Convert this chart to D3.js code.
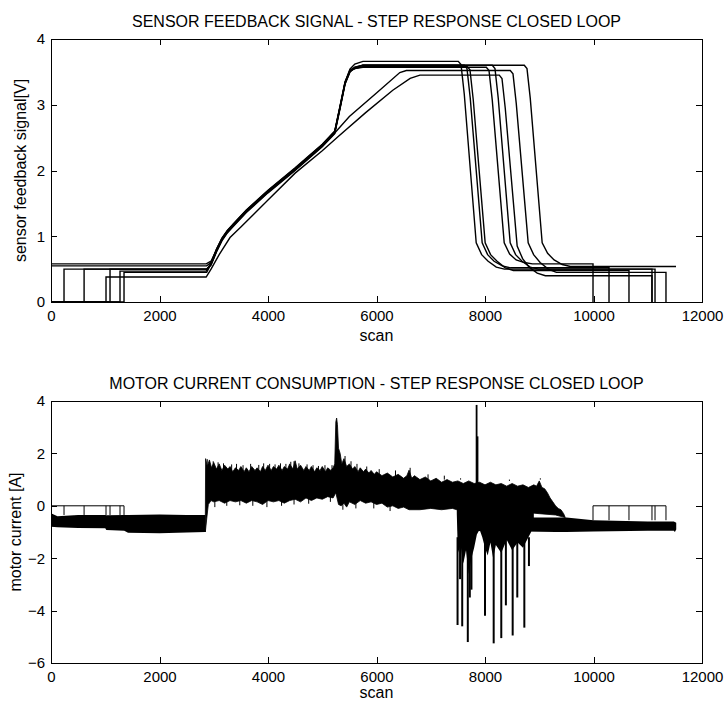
<!DOCTYPE html>
<html><head><meta charset="utf-8">
<script src="https://cdn.jsdelivr.net/npm/d3@7"></script>
<style>
body{margin:0;background:#fff}
text{font-family:"Liberation Sans",Arial,Helvetica,sans-serif;fill:#000}
</style>
</head><body>
<svg id="chart" width="725" height="704"></svg>
<script>
// ---------- data ----------
const xTicks = [0, 2000, 4000, 6000, 8000, 10000, 12000];
const sensorTicks = [0, 1, 2, 3, 4];
const currentTicks = [-6, -4, -2, 0, 2, 4];
const runStarts = [240, 610, 1014, 1088, 1272, 1346];
const runEnds = [9991, 10286, 10654, 11078, 11134, 11336];

const sensorRun1 = [[0,0.58],[2860,0.58],[2950,0.62],[3050,0.79],[3150,0.96],[3250,1.08],[3350,1.17],[3600,1.39],[4000,1.69],[4500,2.03],[5000,2.39],[5230,2.59],[5330,2.98],[5420,3.34],[5510,3.54],[5600,3.62],[5750,3.66],[7508,3.66],[7558,3.61],[7618,3.16],[7838,0.9],[7938,0.72],[8058,0.62],[8208,0.53],[8358,0.5],[11078,0.5],[11078,0]];
const sensorRun2 = [[0,0],[240,0],[240,0.5],[2880,0.5],[2950,0.57],[3050,0.77],[3150,0.94],[3250,1.06],[3350,1.15],[3600,1.37],[4000,1.67],[4500,2.01],[5000,2.37],[5230,2.57],[5330,2.96],[5420,3.32],[5510,3.5],[5600,3.56],[5750,3.6],[7618,3.6],[7668,3.55],[7728,3.1],[7948,0.9],[8048,0.72],[8168,0.62],[8318,0.55],[8468,0.52],[10286,0.52],[10286,0]];
const sensorRun3 = [[0,0],[610,0],[610,0.5],[2870,0.5],[2950,0.58],[3050,0.78],[3150,0.95],[3250,1.07],[3350,1.16],[3600,1.38],[4000,1.68],[4500,2.02],[5000,2.38],[5230,2.58],[5330,2.97],[5420,3.33],[5510,3.51],[5600,3.55],[5750,3.58],[7673,3.58],[7723,3.53],[7783,3.08],[8003,0.9],[8103,0.72],[8223,0.62],[8373,0.52],[8523,0.48],[10654,0.48],[10654,0]];
const sensorRun4 = [[0,0],[1272,0],[1272,0.47],[2860,0.47],[2950,0.59],[3050,0.8],[3150,0.97],[3250,1.09],[3350,1.18],[3600,1.4],[4000,1.7],[4500,2.04],[5000,2.4],[5230,2.6],[5330,2.99],[5420,3.35],[5510,3.52],[5600,3.55],[5750,3.57],[8024,3.57],[8074,3.52],[8134,3.07],[8354,0.9],[8454,0.73],[8574,0.64],[8724,0.6],[8874,0.58],[9991,0.58],[9991,0]];
const sensorRun5 = [[0,0],[1088,0],[1088,0.5],[2870,0.5],[2950,0.56],[3050,0.76],[3150,0.93],[3250,1.05],[3350,1.14],[3600,1.36],[4000,1.66],[4500,2.0],[5000,2.36],[5230,2.56],[5330,2.95],[5420,3.31],[5510,3.5],[5600,3.57],[5750,3.6],[8134,3.6],[8184,3.55],[8244,3.1],[8464,0.9],[8564,0.72],[8684,0.62],[8834,0.53],[8984,0.5],[11134,0.5],[11134,0]];
const sensorRun6 = [[0,0],[1014,0],[1014,0.38],[2860,0.38],[2950,0.5],[3100,0.72],[3300,0.98],[3500,1.14],[4000,1.55],[4500,1.96],[5000,2.3],[5300,2.52],[5800,2.88],[6300,3.22],[6620,3.4],[6800,3.45],[8263,3.45],[8313,3.4],[8373,2.95],[8593,0.85],[8693,0.66],[8813,0.53],[8963,0.44],[9113,0.4],[11078,0.4],[11078,0]];
const sensorRun7 = [[0,0],[1346,0],[1346,0.45],[2870,0.45],[2950,0.58],[3050,0.78],[3150,0.95],[3250,1.07],[3350,1.16],[3600,1.38],[4000,1.68],[4500,2.02],[5000,2.38],[5230,2.57],[5500,2.82],[6000,3.18],[6430,3.49],[6550,3.52],[8466,3.52],[8516,3.47],[8576,3.02],[8796,0.9],[8896,0.72],[9016,0.6],[9166,0.5],[9316,0.45],[11336,0.45],[11336,0]];
const sensorRun8 = [[0,0.55],[2870,0.55],[2950,0.6],[3050,0.8],[3150,0.96],[3250,1.08],[3350,1.17],[3600,1.39],[4000,1.69],[4500,2.03],[5000,2.39],[5230,2.59],[5330,2.97],[5420,3.33],[5510,3.52],[5600,3.57],[5750,3.6],[8724,3.6],[8774,3.55],[8834,3.1],[9054,0.9],[9154,0.74],[9274,0.64],[9424,0.57],[9574,0.54],[11521,0.54]];
const sensorRuns = [sensorRun1, sensorRun2, sensorRun3, sensorRun4, sensorRun5, sensorRun6, sensorRun7, sensorRun8];

// motor current: [scan, upper, lower] envelopes of the dense black band
const currentIdle = [[0,-0.28,-0.8],[120,-0.4,-0.82],[500,-0.35,-0.85],[1000,-0.35,-0.86],[1020,-0.36,-0.92],[1350,-0.35,-0.95],[1420,-0.35,-1.03],[2000,-0.33,-1.05],[2500,-0.35,-1.02],[2846,-0.35,-1.0]];
const currentMoveUpper = [[2845,-0.35],[2850,1.8],[2880,1.5],[2920,1.75],[2960,1.45],[3000,1.65],[3050,1.4],[3100,1.6],[3150,1.35],[3200,1.55],[3260,1.4],[3300,1.5],[3350,1.3],[3400,1.45],[3460,1.35],[3500,1.5],[3560,1.3],[3600,1.45],[3650,1.3],[3700,1.5],[3760,1.35],[3800,1.45],[3860,1.3],[3900,1.5],[3950,1.35],[4000,1.55],[4060,1.35],[4100,1.5],[4160,1.4],[4200,1.55],[4260,1.35],[4300,1.5],[4360,1.4],[4400,1.6],[4460,1.4],[4500,1.72],[4540,1.4],[4600,1.55],[4660,1.35],[4700,1.5],[4760,1.35],[4800,1.5],[4860,1.3],[4900,1.45],[4960,1.35],[5000,1.5],[5060,1.3],[5100,1.45],[5160,1.35],[5200,1.45],[5230,1.6],[5250,3.2],[5265,3.35],[5280,3.1],[5300,2.2],[5330,2.0],[5360,1.6],[5400,1.8],[5450,1.5],[5500,1.6],[5560,1.4],[5600,1.5],[5660,1.3],[5700,1.45],[5760,1.3],[5800,1.4],[5860,1.25],[5900,1.35],[5960,1.2],[6000,1.3],[6100,1.15],[6200,1.25],[6300,1.1],[6400,1.2],[6500,1.05],[6560,1.15],[6600,1.36],[6650,1.05],[6700,1.15],[6800,1.0],[6900,1.1],[7000,0.95],[7100,1.05],[7200,0.9],[7300,1.0],[7400,0.9],[7500,0.95],[7600,0.85],[7700,0.95],[7800,0.85],[7900,0.9],[8000,0.8],[8100,0.9],[8200,0.8],[8300,0.85],[8400,0.75],[8500,0.85],[8600,0.75],[8700,0.8],[8800,0.7],[8900,0.8],[8950,0.75],[9000,0.95],[9050,0.7],[9100,0.65],[9150,0.5],[9200,0.3],[9250,0.15],[9300,0.0],[9350,-0.1],[9400,-0.15],[9450,-0.3],[9480,-0.45]];
const currentMoveLower = [[2845,-1.0],[2870,-0.5],[2900,0.05],[2950,0.2],[3000,0.15],[3100,0.2],[3200,0.1],[3300,0.2],[3400,0.15],[3500,0.2],[3600,0.1],[3700,0.2],[3800,0.15],[3900,0.05],[4000,0.2],[4100,0.15],[4200,0.2],[4300,0.1],[4400,0.2],[4500,0.25],[4600,0.15],[4700,0.3],[4800,0.2],[4900,0.3],[5000,0.25],[5100,0.35],[5200,0.3],[5250,0.5],[5300,0.05],[5350,0.0],[5400,0.1],[5450,-0.05],[5500,0.15],[5600,0.05],[5700,0.2],[5800,0.1],[5900,0.15],[6000,0.05],[6100,0.1],[6200,-0.05],[6300,0.0],[6400,-0.1],[6500,-0.05],[6600,-0.15],[6800,-0.15],[7000,-0.1],[7200,-0.15],[7400,-0.1],[7480,-0.15],[7600,-0.2],[8000,-0.25],[8500,-0.2],[9000,-0.3],[9300,-0.35],[9480,-0.45]];
const currentStopLower = [[7480,-0.3],[7500,-1.8],[7550,-1.5],[7600,-2.2],[7650,-1.7],[7700,-2.6],[7750,-2.0],[7800,-1.6],[7850,-1.1],[7900,-0.9],[7950,-1.2],[8000,-1.6],[8050,-1.9],[8100,-1.4],[8150,-2.0],[8200,-1.5],[8300,-1.8],[8400,-1.3],[8500,-1.7],[8600,-1.4],[8700,-1.6],[8800,-1.2],[8850,-1.0],[8900,-0.6]];
const currentSpikesDown = [[7494,-4.55],[7540,-2.8],[7580,-4.6],[7683,-5.2],[7720,-3.5],[7750,-3.2],[8000,-4.2],[8160,-5.25],[8300,-5.05],[8385,-3.8],[8510,-4.95],[8595,-3.5],[8725,-4.65],[8810,-2.3]];
const currentSpikesUp = [[7845,3.85],[7862,2.65]];
const currentHairsUp = [[2880,1.78],[2990,1.7],[3080,1.66],[3180,1.62],[3330,1.58],[3420,1.6],[3540,1.55],[3680,1.6],[3830,1.56],[3920,1.62],[4030,1.6],[4130,1.58],[4230,1.62],[4330,1.6],[4420,1.68],[4480,1.7],[4570,1.62],[4720,1.58],[4830,1.55],[4930,1.52],[5050,1.55],[5180,1.55],[5420,1.9],[5530,1.7],[5640,1.6],[5820,1.5],[6050,1.4],[6350,1.35],[6620,1.45],[6950,1.2],[7250,1.15],[7550,1.05],[8150,1.0],[8450,0.95],[8650,1.0],[9020,1.05]];
const currentHairsDown = [[3020,-0.05],[3240,0.0],[3480,0.02],[3720,0.0],[3980,-0.05],[4250,0.0],[4480,0.05],[4750,0.08],[5150,0.15],[5380,-0.15],[5620,-0.1],[5950,-0.1],[6250,-0.2]];
const currentRest = [[7500,-0.45,-0.95],[9300,-0.45,-1.0],[9500,-0.45,-1.0],[10000,-0.55,-0.98],[11000,-0.6,-0.95],[11480,-0.6,-0.95],[11500,-0.62,-1.0],[11525,-0.65,-0.9]];

// ---------- layout ----------
const L = 51, R = 702;
const svg = d3.select("#chart");
const x = d3.scaleLinear().domain([0, 12000]).range([L, R]);
const y1 = d3.scaleLinear().domain([0, 4]).range([302, 39]);
const y2 = d3.scaleLinear().domain([-6, 4]).range([663, 401]);
const fmt = d3.format("d");

function frame(y, yt, title, ylabel, labelX, scanY, id) {
  const g = svg.append("g");
  const [yb, yt0] = y.range();
  const ax = (gen, tr) => {
    const a = g.append("g").attr("transform", tr).call(gen);
    a.select(".domain").remove();
    a.selectAll("line").attr("stroke", "#000").attr("shape-rendering", "crispEdges");
    a.selectAll("text").style("font-size", "15px").style("font-family", '"Liberation Sans",Arial,sans-serif').attr("fill", "#000");
    return a;
  };
  ax(d3.axisBottom(x).tickValues(xTicks).tickFormat(fmt).tickSizeInner(-6).tickSizeOuter(0).tickPadding(8), `translate(0,${yb})`);
  ax(d3.axisTop(x).tickValues(xTicks).tickSizeInner(-6).tickSizeOuter(0).tickFormat(""), `translate(0,${yt0})`);
  ax(d3.axisLeft(y).tickValues(yt).tickFormat(fmt).tickSizeInner(-6).tickSizeOuter(0).tickPadding(6), `translate(${L},0)`);
  ax(d3.axisRight(y).tickValues(yt).tickSizeInner(-6).tickSizeOuter(0).tickFormat(""), `translate(${R},0)`);
  g.append("rect").attr("x", L + 0.5).attr("y", yt0 + 0.5).attr("width", R - L).attr("height", yb - yt0)
    .attr("fill", "none").attr("stroke", "#000").attr("stroke-width", 1);
  g.append("text").attr("x", (L + R) / 2).attr("y", yt0 - 12).attr("text-anchor", "middle")
    .style("font-size", "16px").text(title);
  g.append("text").attr("x", (L + R) / 2).attr("y", scanY).attr("text-anchor", "middle")
    .style("font-size", "16px").text("scan");
  g.append("text").attr("transform", `translate(${labelX},${(yb + yt0) / 2}) rotate(-90)`)
    .attr("text-anchor", "middle").style("font-size", "16px").text(ylabel);
  svg.append("clipPath").attr("id", id).append("rect")
    .attr("x", L).attr("y", yt0).attr("width", R - L).attr("height", yb - yt0);
}

// ---------- top: sensor ----------
frame(y1, sensorTicks, "SENSOR FEEDBACK SIGNAL - STEP RESPONSE CLOSED LOOP", "sensor feedback signal[V]", 26, 341, "clip1");
const line1 = d3.line().x(d => x(d[0])).y(d => y1(d[1]));
svg.append("g").attr("clip-path", "url(#clip1)").selectAll("path").data(sensorRuns).join("path")
  .attr("d", line1).attr("fill", "none").attr("stroke", "#000").attr("stroke-width", 1.4);

// ---------- bottom: current ----------
frame(y2, currentTicks, "MOTOR CURRENT CONSUMPTION - STEP RESPONSE CLOSED LOOP", "motor current [A]", 21, 698, "clip2");
const g2 = svg.append("g").attr("clip-path", "url(#clip2)");
const poly = d3.line().x(d => x(d[0])).y(d => y2(d[1])).curve(d3.curveLinearClosed);
const band = rows => rows.map(r => [r[0], r[1]]).concat(rows.slice().reverse().map(r => [r[0], r[2]]));

g2.append("path").attr("d", poly(band(currentIdle))).attr("fill", "#000");
g2.append("path").attr("d", poly(band(currentRest))).attr("fill", "#000");
g2.append("path").attr("d", poly(currentMoveUpper.concat(currentMoveLower.slice().reverse()))).attr("fill", "#000").attr("stroke", "#000").attr("stroke-width", 0.8);
g2.append("path").attr("d", poly([[7480, -0.1], [8900, -0.1]].concat(currentStopLower.slice().reverse()))).attr("fill", "#000");
const vline = (cls, data, from, w) => g2.selectAll("." + cls).data(data).join("line").attr("class", cls)
  .attr("x1", d => x(d[0])).attr("x2", d => x(d[0])).attr("y1", y2(from)).attr("y2", d => y2(d[1]))
  .attr("stroke", "#000").attr("stroke-width", w);
vline("hu", currentHairsUp, 1.0, 1);
vline("hd", currentHairsDown, 0.5, 1);
vline("sd", currentSpikesDown, -1.2, 2);
vline("su", currentSpikesUp, 0.8, 1.8);

// zero-level segments before start / after end of runs
const zl = d3.line().x(d => x(d[0])).y(d => y2(d[1]));
const addPath = pts => g2.append("path").attr("d", zl(pts)).attr("stroke", "#000").attr("stroke-width", 1).attr("fill", "none");
addPath([[0, 0], [d3.max(runStarts), 0]]);
runStarts.forEach(s => addPath([[s, 0], [s, -0.35]]));
addPath([[d3.min(runEnds), 0], [d3.max(runEnds), 0]]);
runEnds.forEach(s => addPath([[s, 0], [s, -0.55]]));
</script>
</body></html>
